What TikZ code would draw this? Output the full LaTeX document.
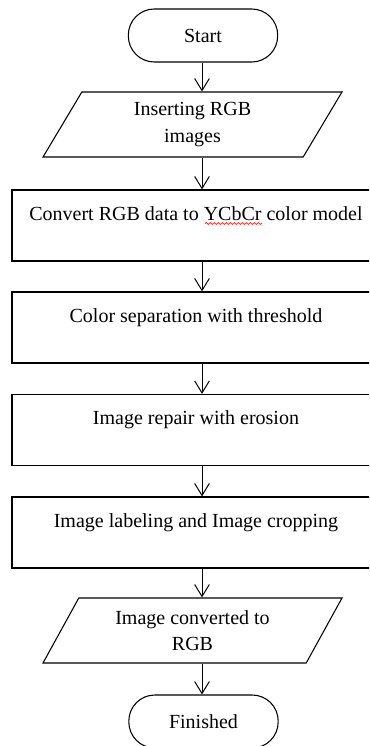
\documentclass[tikz,border=0pt]{standalone}
\usepackage{fontspec}
\setmainfont{Liberation Serif}
\usetikzlibrary{arrows.meta,shapes.geometric,decorations.pathmorphing}
\begin{document}
\begin{tikzpicture}[x=0.75pt,y=-0.75pt,
  every node/.style={font=\fontsize{15}{20}\selectfont},
  term/.style={draw,rectangle,rounded corners=19.5pt,minimum width=112pt,minimum height=39.75pt,inner sep=0pt,line width=0.8pt},
  io/.style={draw,trapezium,trapezium left angle=48.7,trapezium right angle=131.3,trapezium stretches body,minimum width=224.25pt,minimum height=48.75pt,inner sep=0pt,align=center,line width=0.8pt},
  proc/.style={draw,rectangle,minimum width=276pt,inner sep=0pt,text height=22.5pt,text depth=30.75pt,line width=0.9pt},
  arr/.style={-{Straight Barb[length=9pt,width=11pt]},line width=0.75pt}]
\useasboundingbox (0,0) rectangle (369,746);
\clip (0,0) rectangle (369,746);
\coordinate (ax) at (202,0);
\node[term] (start) at (203,35.5) {Start};
\node[io] (in1) at (192.5,124.5) {Inserting RGB\\images};
\node[proc] (r1) at (196,225.5) {Convert RGB data to YCbCr color model};
\node[proc] (r2) at (196,327.5) {Color separation with threshold};
\node[proc] (r3) at (196,430) {Image repair with erosion};
\node[proc] (r4) at (196,532.5) {Image labeling and Image cropping};
\node[io] (out) at (192.5,630.5) {Image converted to\\RGB};
\node[term] (fin) at (203.5,721.5) {Finished};
\draw[red,line width=0.5pt,decorate,decoration={snake,amplitude=0.7pt,segment length=3pt}] (205,223.5) -- (262,223.5);
\draw[arr] (start.south -| ax) -- (in1.north -| ax);
\draw[arr] (in1.south -| ax) -- (r1.north -| ax);
\draw[arr] (r1.south -| ax) -- (r2.north -| ax);
\draw[arr] (r2.south -| ax) -- (r3.north -| ax);
\draw[arr] (r3.south -| ax) -- (r4.north -| ax);
\draw[arr] (r4.south -| ax) -- (out.north -| ax);
\draw[arr] (out.south -| ax) -- (fin.north -| ax);
\end{tikzpicture}
\end{document}
